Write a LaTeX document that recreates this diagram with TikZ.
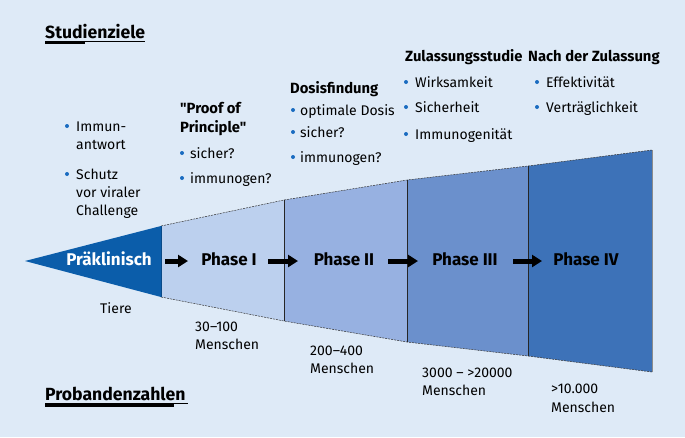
\documentclass[tikz,border=0pt]{standalone}
\usepackage{fontspec}
\setmainfont{Fira Sans}[Ligatures=TeXOff]
\usetikzlibrary{arrows.meta}
\definecolor{bg}{HTML}{DEEAF7}
\definecolor{pre}{HTML}{0B5DAA}
\definecolor{pone}{HTML}{BCD0EE}
\definecolor{ptwo}{HTML}{97B1E1}
\definecolor{pthree}{HTML}{6B90CC}
\definecolor{pfour}{HTML}{3D72B8}
\definecolor{bulc}{HTML}{1A6CC0}
\tikzset{
 txt/.style={anchor=base west, inner sep=0pt, font=\fontsize{14}{16}\selectfont},
 hd/.style={anchor=base west, inner sep=0pt, font=\fontsize{14.8}{17}\selectfont\bfseries},
 title/.style={anchor=base west, inner sep=0pt, font=\fontsize{17.6}{20}\selectfont\bfseries},
 bul/.style={circle, fill=bulc, inner sep=0pt, minimum size=4pt},
 phase/.style={anchor=base, inner sep=0pt, font=\fontsize{17}{19}\selectfont\bfseries},
 edgeline/.style={draw=black!80, dash pattern=on 2pt off 1pt, line width=0.5pt},
 divline/.style={draw=black!85, line width=0.6pt},
 arr/.style={-{Triangle[length=10pt,width=12pt]}, line width=5pt, black},
}
\begin{document}
\begin{tikzpicture}[x=1pt,y=-1pt]
\fill[bg] (0,0) rectangle (685,437);
\useasboundingbox (0,0) rectangle (685,437);
% geometry
\coordinate (A) at (25,261);
\coordinate (T1) at (161,226); \coordinate (B1) at (161,297);
\coordinate (T2) at (284,200); \coordinate (B2) at (284,321);
\coordinate (T3) at (407,180); \coordinate (B3) at (407,342);
\coordinate (T4) at (528,166); \coordinate (B4) at (528,356);
\coordinate (T5) at (652,150); \coordinate (B5) at (652,372);
\fill[pre] (A) -- (T1) -- (B1) -- cycle;
\fill[pone] (T1) -- (T2) -- (B2) -- (B1) -- cycle;
\fill[ptwo] (T2) -- (T3) -- (B3) -- (B2) -- cycle;
\fill[pthree] (T3) -- (T4) -- (B4) -- (B3) -- cycle;
\fill[pfour] (T4) -- (T5) -- (B5) -- (B4) -- cycle;
\draw[edgeline] (T1) -- (T2) -- (T3) -- (T4) -- (T5);
\draw[edgeline] (B1) -- (B2) -- (B3) -- (B4) -- (B5);
\draw[divline] (T2) -- (B2);
\draw[divline] (T3) -- (B3);
\draw[divline] (T4) -- (B4);
\draw[draw=black!45, line width=0.6pt] (T5) -- (B5);
\draw[draw=pre!80!black, line width=0.4pt] (T1) -- (B1);
% phase labels
\node[phase, text=white] (pk) at (109,265) {Präklinisch};
\node[phase] (ph1) at (229,265) {Phase I};
\node[phase] (ph2) at (344,265) {Phase II};
\node[phase] (ph3) at (465,265) {Phase III};
\node[phase] (ph4) at (586,265) {Phase IV};
% arrows
\coordinate (a1s) at (165,261); \coordinate (a1e) at (188,261);
\coordinate (a2s) at (268,261); \coordinate (a2e) at (298,261);
\coordinate (a3s) at (388,261); \coordinate (a3e) at (418,261);
\coordinate (a4s) at (513,261); \coordinate (a4e) at (542,261);
\draw[arr] (a1s) -- (a1e);
\draw[arr] (a2s) -- (a2e);
\draw[arr] (a3s) -- (a3e);
\draw[arr] (a4s) -- (a4e);
% titles
\node[title] (sz) at (45,38) {Studienziele};
\draw[line width=0.8pt] (45,41.8) -- (145,41.8);
\fill (45,41.4) rectangle (85,44.4);
\node[title] (pz) at (45,400) {Probandenzahlen};
\draw[line width=0.8pt] (45,403.6) -- (188,403.6);
\fill (45,403.2) rectangle (174,406.7);
% column 1
\node[bul] (b11) at (67,126) {};
\node[txt] (c11) at (76,131) {Immun-};
\node[txt] (c12) at (76,149) {antwort};
\node[bul] (b12) at (67,174) {};
\node[txt] (c13) at (76,179) {Schutz};
\node[txt] (c14) at (76,197) {vor viraler};
\node[txt] (c15) at (76,215) {Challenge};
% column 2
\node[hd] (h2a) at (180,113) {"Proof of};
\node[hd] (h2b) at (180,132) {Principle"};
\node[bul] (b21) at (182,153) {};
\node[txt] (c21) at (190,158) {sicher?};
\node[bul] (b22) at (182,178) {};
\node[txt] (c22) at (190,183) {immunogen?};
% column 3
\node[hd] (h3) at (290,93) {Dosisfindung};
\node[bul] (b31) at (293,110) {};
\node[txt] (c31) at (300,115) {optimale Dosis};
\node[bul] (b32) at (293,132) {};
\node[txt] (c32) at (300,137) {sicher?};
\node[bul] (b33) at (293,157) {};
\node[txt] (c33) at (300,162) {immunogen?};
% column 4
\node[hd] (h4) at (405,61) {Zulassungsstudie};
\node[bul] (b41) at (406,82) {};
\node[txt] (c41) at (415,87) {Wirksamkeit};
\node[bul] (b42) at (406,107) {};
\node[txt] (c42) at (415,112) {Sicherheit};
\node[bul] (b43) at (406,134) {};
\node[txt] (c43) at (415,139) {Immunogenität};
% column 5
\node[hd] (h5) at (528,61) {Nach der Zulassung};
\node[bul] (b51) at (537,82) {};
\node[txt] (c51) at (546,87) {Effektivität};
\node[bul] (b52) at (537,107) {};
\node[txt] (c52) at (546,112) {Verträglichkeit};
% numbers
\node[txt] (n0) at (100,313) {Tiere};
\node[txt] (n1a) at (195,331) {30–100};
\node[txt] (n1b) at (195,349) {Menschen};
\node[txt] (n2a) at (310,355) {200–400};
\node[txt] (n2b) at (310,373) {Menschen};
\node[txt] (n3a) at (422,377) {3000 – >20000};
\node[txt] (n3b) at (422,395) {Menschen};
\node[txt] (n4a) at (551,393) {>10.000};
\node[txt] (n4b) at (551,412) {Menschen};
\end{tikzpicture}
\end{document}
